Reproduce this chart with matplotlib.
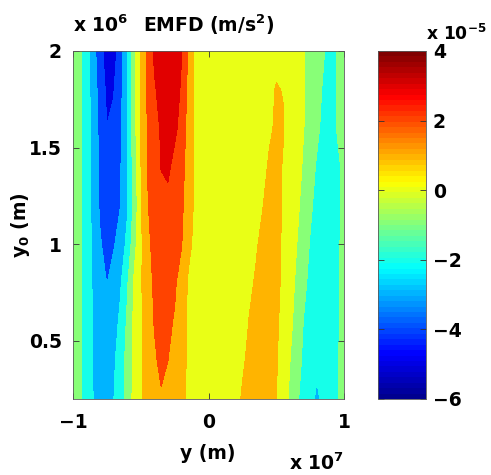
import numpy as np
import matplotlib
matplotlib.use('Agg')
import matplotlib.pyplot as plt
from matplotlib.colors import LinearSegmentedColormap, Normalize
from matplotlib.cm import ScalarMappable

plt.rcParams['font.family'] = ['DejaVu Sans']
plt.rcParams['font.weight'] = 'bold'
plt.rcParams['mathtext.fontset'] = 'dejavusans'
plt.rcParams['mathtext.default'] = 'bf'

# grid: y along columns (x 1e7 m), y0 along rows (x 1e6 m)
y_cols = np.linspace(-1.0, 1.0, 41)
y0_rows = [0.2, 0.4, 0.6, 0.8, 1.0, 1.2, 1.4, 1.6, 1.8, 2.0]

# EMFD values (x 1e-5 m/s^2), one list per y0 row
emfd_020 = [-0.5, -0.88, -1.42, -2.02, -2.5, -2.5, -2.02, -1.42, -0.63, 0.27, 0.89, 1.25, 1.56, 1.92, 1.68, 1.42, 1.14, 0.91, 0.73, 0.65, 0.64,
            0.64, 0.65, 0.68, 0.75, 1.08, 1.31, 1.53, 1.45, 1.24, 1.02, 0.5, -0.18, -0.86, -1.3, -1.66, -2.2, -1.71, -1.37, -1.04, -0.85]
emfd_040 = [-0.5, -0.84, -1.39, -2.07, -2.55, -2.6, -2.16, -1.53, -0.68, 0.22, 0.88, 1.39, 1.88, 2.17, 2.01, 1.61, 1.21, 0.91, 0.73, 0.64, 0.63,
            0.63, 0.63, 0.64, 0.66, 0.89, 1.16, 1.38, 1.5, 1.28, 1.06, 0.69, 0.03, -0.62, -1.15, -1.52, -1.75, -1.69, -1.37, -1.04, -0.85]
emfd_060 = [-0.5, -0.84, -1.42, -2.1, -2.53, -2.78, -2.34, -1.83, -0.85, 0.17, 0.87, 1.49, 2.04, 2.4, 2.24, 1.9, 1.31, 0.91, 0.73, 0.63, 0.62,
            0.62, 0.62, 0.62, 0.63, 0.75, 1.02, 1.23, 1.45, 1.33, 1.11, 0.8, 0.28, -0.41, -1.01, -1.37, -1.73, -1.72, -1.4, -1.07, -0.85]
emfd_080 = [-0.5, -0.84, -1.45, -2.14, -2.57, -3.02, -2.55, -2.11, -1.13, 0.11, 0.87, 1.61, 2.14, 2.47, 2.5, 2.16, 1.51, 0.91, 0.73, 0.62, 0.6,
            0.6, 0.6, 0.6, 0.6, 0.69, 0.89, 1.06, 1.28, 1.37, 1.15, 0.89, 0.51, -0.22, -0.78, -1.22, -1.58, -1.8, -1.43, -1.09, -0.85]
emfd_100 = [-0.5, -0.84, -1.45, -2.23, -2.91, -3.34, -3.1, -2.54, -1.77, -0.39, 0.81, 1.79, 2.25, 2.62, 2.66, 2.35, 2.06, 1.21, 0.8, 0.62, 0.6,
            0.58, 0.58, 0.58, 0.59, 0.66, 0.8, 0.94, 1.14, 1.38, 1.16, 0.92, 0.6, 0.02, -0.55, -1.06, -1.45, -1.78, -1.43, -1.1, -0.85]
emfd_120 = [-0.5, -0.84, -1.45, -2.34, -3.15, -3.59, -3.37, -3.01, -2.11, -0.73, 0.82, 1.95, 2.34, 2.8, 2.82, 2.48, 2.17, 1.55, 0.82, 0.62, 0.6,
            0.58, 0.57, 0.57, 0.57, 0.63, 0.74, 0.85, 0.98, 1.24, 1.18, 0.95, 0.67, 0.24, -0.34, -0.85, -1.28, -1.68, -1.48, -1.14, -0.85]
emfd_140 = [-0.5, -0.84, -1.45, -2.35, -3.19, -3.68, -3.48, -3.07, -2.12, -0.57, 0.96, 2.01, 2.59, 3.02, 3.12, 2.8, 2.36, 1.55, 0.82, 0.62, 0.6,
            0.58, 0.56, 0.55, 0.55, 0.59, 0.7, 0.8, 0.9, 1.05, 1.18, 0.96, 0.7, 0.39, -0.11, -0.62, -1.11, -1.5, -1.51, -1.15, -0.85]
emfd_160 = [-0.5, -0.84, -1.45, -2.38, -3.3, -3.98, -3.8, -3.2, -2.16, -0.43, 1.11, 2.05, 2.66, 3.09, 3.3, 3.14, 2.77, 1.56, 0.82, 0.6, 0.58,
            0.56, 0.54, 0.52, 0.5, 0.53, 0.63, 0.72, 0.84, 0.95, 1.05, 1.04, 0.76, 0.45, 0.04, -0.38, -0.81, -1.28, -1.41, -0.96, -0.75]
emfd_180 = [-0.5, -0.84, -1.51, -2.51, -3.4, -4.2, -4.05, -3.27, -2.16, -0.33, 1.12, 2.12, 2.92, 3.23, 3.5, 3.25, 2.93, 1.7, 0.82, 0.6, 0.58,
            0.56, 0.54, 0.52, 0.5, 0.53, 0.61, 0.69, 0.77, 0.85, 1.04, 0.98, 0.67, 0.42, 0.06, -0.32, -0.71, -1.12, -1.38, -0.94, -0.72]
emfd_200 = [-0.5, -0.84, -1.6, -2.61, -3.68, -4.43, -4.38, -3.52, -2.16, -0.33, 1.13, 2.25, 3.11, 3.42, 3.66, 3.35, 3.03, 1.93, 0.82, 0.6, 0.58,
            0.56, 0.54, 0.52, 0.5, 0.52, 0.58, 0.64, 0.7, 0.76, 0.82, 0.78, 0.62, 0.42, 0.08, -0.26, -0.6, -0.94, -1.36, -0.93, -0.7]

levels = np.arange(-6, 5) * 1e-5
cbar_ticks = [-6, -4, -2, 0, 2, 4]

# matlab-style jet
jet_m = LinearSegmentedColormap('jet_m', {
    'red':   [(0, 0, 0), (0.375, 0, 0), (0.625, 1, 1), (0.875, 1, 1), (1, 0.5, 0.5)],
    'green': [(0, 0, 0), (0.125, 0, 0), (0.375, 1, 1), (0.625, 1, 1), (0.875, 0, 0), (1, 0, 0)],
    'blue':  [(0, 0.5625, 0.5625), (0.125, 1, 1), (0.375, 1, 1), (0.625, 0, 0), (1, 0, 0)],
}, N=64)
norm = Normalize(vmin=-6e-5, vmax=4e-5)

Z = np.array([emfd_020, emfd_040, emfd_060, emfd_080, emfd_100,
              emfd_120, emfd_140, emfd_160, emfd_180, emfd_200]) * 1e-5
Y, Y0 = np.meshgrid(y_cols * 1e7, np.array(y0_rows) * 1e6)

W, H = 491, 475
fig = plt.figure(figsize=(W / 100, H / 100), dpi=100)

def fx(px):
    return px / W

def fy(py):
    return 1 - py / H

ax = fig.add_axes([fx(73), fy(399), fx(344) - fx(73), fy(51) - fy(399)])
# matlab colours each band by its lower level
band_colors = [jet_m(norm(l)) for l in levels[:-1]]
ax.contourf(Y, Y0, Z, levels=levels, colors=band_colors)

ax.set_xlim(-1e7, 1e7)
ax.set_ylim(0.2e6, 2e6)
ax.set_xticks([-1e7, 0, 1e7])
ax.set_xticklabels(['\u22121', '0', '1'])
ax.set_yticks([0.5e6, 1e6, 1.5e6, 2e6])
ax.set_yticklabels(['0.5', '1', '1.5', '2'])
fs = 13.5
ax.tick_params(direction='in', top=True, right=True, length=4, width=0.6,
               labelsize=fs, color='0.2')
ax.tick_params(axis='x', pad=10)
ax.tick_params(axis='y', pad=8)
for s in ax.spines.values():
    s.set_linewidth(0.6)
    s.set_color('0.35')

cax = fig.add_axes([fx(378), fy(399), fx(426) - fx(378), fy(51) - fy(399)])
sm = ScalarMappable(norm=norm, cmap=jet_m)
cb = fig.colorbar(sm, cax=cax, ticks=[t * 1e-5 for t in cbar_ticks])
cb.ax.set_yticklabels([str(t).replace('-', '\u2212') for t in cbar_ticks])
cb.ax.tick_params(direction='in', left=True, right=True, length=4, width=0.6,
                  labelsize=fs, pad=5, color='0.2')
cb.outline.set_linewidth(0.6)
cb.outline.set_edgecolor('0.35')

fig.text(fx(73), fy(32), 'x 10$^6$', fontsize=fs, fontweight='bold', va='baseline', ha='left')
fig.text(fx(209), fy(32), 'EMFD (m/s$^2$)', fontsize=fs, fontweight='bold', va='baseline', ha='center')
fig.text(fx(426), fy(40), 'x 10$^{-5}$', fontsize=12.3, fontweight='bold', va='baseline', ha='left')
fig.text(fx(344), fy(470), 'x 10$^7$', fontsize=fs, fontweight='bold', va='baseline', ha='right')
fig.text(fx(208), fy(459), 'y (m)', fontsize=fs, fontweight='bold', va='baseline', ha='center')
fig.text(fx(20), fy(225), 'y$_0$ (m)', fontsize=fs, fontweight='bold', va='center', ha='center', rotation=90)

fig.savefig('out.png', dpi=100)
